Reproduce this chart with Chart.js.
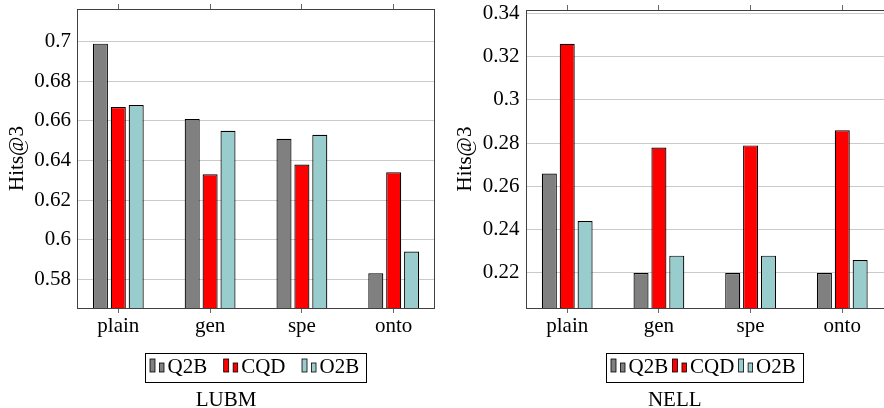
<!DOCTYPE html>
<html lang="en">
<head>
<meta charset="UTF-8">
<title>Hits@3 - LUBM / NELL</title>
<script src="https://cdn.jsdelivr.net/npm/chart.js@4"></script>
<style>
  body { margin: 0; background: #fff; }
  #wrap { position: relative; width: 884px; height: 408px; }
  canvas { position: absolute; top: 0; }
</style>
</head>
<body>
<div id="wrap">
  <canvas id="lubm" width="442" height="408" style="left:0"></canvas>
  <canvas id="nell" width="442" height="408" style="left:442px"></canvas>
</div>
<script>
const categories = ['plain', 'gen', 'spe', 'onto'];
const seriesNames = ['Q2B', 'CQD', 'O2B'];
const seriesColors = ['#808080', '#ff0000', '#99cccc'];

// LUBM
const lubmQ2B = [0.699, 0.661, 0.651, 0.583];
const lubmCQD = [0.667, 0.633, 0.638, 0.634];
const lubmO2B = [0.668, 0.655, 0.653, 0.594];
const lubmRange = [0.5655, 0.7165];

// NELL
const nellQ2B = [0.266, 0.220, 0.220, 0.220];
const nellCQD = [0.326, 0.278, 0.279, 0.286];
const nellO2B = [0.244, 0.228, 0.228, 0.226];
const nellRange = [0.2038, 0.3416];

const FONT = "'Liberation Serif', 'Times New Roman', serif";

// box around the plot, pgfplots style legend and the caption under it
const frame = {
  id: 'frame',
  afterDraw(chart, args, opts) {
    const ctx = chart.ctx;
    const a = chart.chartArea;
    ctx.save();
    ctx.strokeStyle = '#404040';
    ctx.lineWidth = 1;
    ctx.strokeRect(Math.round(a.left) + 0.5, Math.round(a.top) + 0.5,
      Math.round(a.right - a.left) - 1, Math.round(a.bottom - a.top));

    ctx.font = '21px ' + FONT;
    const items = chart.data.datasets.map(d => ({
      label: d.label, color: d.backgroundColor, w: ctx.measureText(d.label).width
    }));
    const sym = 17.5;
    let total = 5 + 7 + opts.gap * (items.length - 1);
    items.forEach(it => { total += sym + it.w; });
    const mid = (a.left + a.right) / 2;
    let x = Math.round(mid - total / 2);
    ctx.strokeStyle = '#000';
    ctx.strokeRect(x + 0.5, 353.5, Math.round(total), 29);
    x += 5;
    items.forEach(it => {
      ctx.fillStyle = it.color;
      ctx.lineWidth = 0.8;
      ctx.fillRect(x, 359, 5, 13);
      ctx.strokeRect(x, 359, 5, 13);
      ctx.fillRect(x + 9.5, 363, 4.5, 9);
      ctx.strokeRect(x + 9.5, 363, 4.5, 9);
      ctx.fillStyle = '#000';
      ctx.textBaseline = 'alphabetic';
      ctx.textAlign = 'left';
      ctx.fillText(it.label, x + sym, 373);
      x += sym + it.w + opts.gap;
    });

    ctx.textAlign = 'center';
    ctx.fillText(opts.caption, mid - 30, 406);
    ctx.restore();
  }
};

function makeChart(id, series, range, caption, geo) {
  const datasets = series.map((vals, i) => ({
    label: seriesNames[i],
    data: vals.map((v, j) => ({ x: j, y: v })),
    backgroundColor: seriesColors[i],
    borderColor: '#000',
    borderWidth: 1.2,
    borderSkipped: false,
    categoryPercentage: 0.585,
    barPercentage: 0.84
  }));
  const catTicks = {
    stepSize: 1,
    includeBounds: false,
    autoSkip: false,
    maxRotation: 0,
    callback: v => categories[v] ?? ''
  };
  return new Chart(document.getElementById(id), {
    type: 'bar',
    data: { datasets },
    plugins: [frame],
    options: {
      responsive: false,
      animation: false,
      layout: { padding: { left: 0, right: geo.padRight, top: geo.padTop, bottom: 69 } },
      plugins: {
        legend: { display: false },
        tooltip: { enabled: false },
        frame: { caption, gap: geo.gap }
      },
      scales: {
        x: {
          type: 'linear',
          offset: false,
          min: geo.xMin, max: geo.xMax,
          grid: { offset: false, drawOnChartArea: false, tickLength: 5, color: '#666' },
          border: { display: false },
          ticks: Object.assign({ padding: 1, color: '#000', font: { family: FONT, size: 21 } }, catTicks),
          afterFit: s => { s.height = 31; }
        },
        x2: {
          type: 'linear',
          position: 'top',
          offset: false,
          min: geo.xMin, max: geo.xMax,
          grid: { offset: false, drawOnChartArea: false, tickLength: 5, color: '#666' },
          border: { display: false },
          ticks: Object.assign({ display: false }, catTicks),
          afterFit: s => { s.height = 5; }
        },
        y: {
          min: range[0], max: range[1],
          grid: { color: '#cacaca', drawTicks: false },
          border: { display: false },
          ticks: {
            stepSize: 0.02,
            includeBounds: false,
            padding: 6,
            color: '#000',
            font: { family: FONT, size: 21 },
            callback: v => String(+v.toFixed(2))
          },
          title: {
            display: true,
            text: 'Hits@3',
            color: '#000',
            font: { family: FONT, size: 21 },
            padding: { top: geo.titlePad, bottom: 0 }
          },
          afterFit: s => {
            s.width = geo.yWidth;
            s.paddingTop = 0;
            s.paddingBottom = 0;
          }
        }
      }
    }
  });
}

makeChart('lubm', [lubmQ2B, lubmCQD, lubmO2B], lubmRange, 'LUBM',
  { yWidth: 77, padRight: 7, padTop: 4, titlePad: 5, xMin: -0.45, xMax: 3.45, gap: 16.5 });
makeChart('nell', [nellQ2B, nellCQD, nellO2B], nellRange, 'NELL',
  { yWidth: 83.5, padRight: 0, padTop: 5, titlePad: 11, xMin: -0.455, xMax: 3.455, gap: 4.3 });
</script>
</body>
</html>
